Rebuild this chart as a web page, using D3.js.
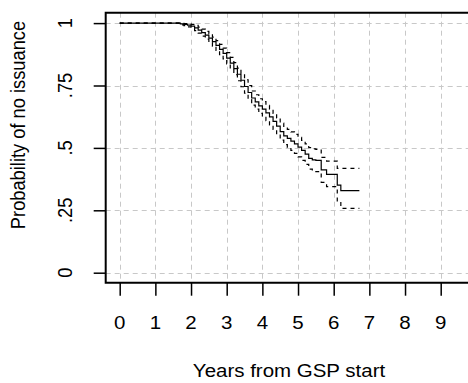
<!DOCTYPE html>
<html><head><meta charset="utf-8">
<script src="https://cdn.jsdelivr.net/npm/d3@7"></script>
<style>body{margin:0;background:#fff}svg{display:block}text{font-family:"Liberation Sans",Arial,sans-serif;fill:#000}</style>
</head><body>
<script>
// Kaplan-Meier estimate (step times) with 95% CI
const times = [0, 1.7, 1.8, 1.9, 2.0, 2.1, 2.2, 2.3, 2.4, 2.5, 2.6, 2.7, 2.8, 2.9, 3.0, 3.1, 3.2, 3.3, 3.4, 3.5, 3.6, 3.7, 3.8, 3.9, 4.0, 4.1, 4.2, 4.3, 4.4, 4.5, 4.6, 4.7, 4.8, 4.9, 5.0, 5.1, 5.2, 5.3, 5.4, 5.5, 5.65, 5.8, 6.1, 6.2];
const survival = [1, .997, .995, .992, .988, .981, .972, .962, .952, .940, .926, .911, .895, .879, .860, .840, .818, .795, .771, .746, .722, .700, .684, .668, .655, .640, .624, .606, .587, .565, .548, .538, .527, .516, .503, .490, .475, .458, .452, .450, .412, .394, .351, .329];
const upper = [1, .999, .998, .997, .995, .991, .984, .976, .967, .957, .944, .930, .915, .900, .882, .863, .842, .820, .797, .773, .750, .728, .713, .697, .685, .670, .655, .638, .620, .599, .583, .574, .564, .554, .542, .530, .516, .501, .496, .494, .462, .447, .418, .418];
const lower = [1, .993, .990, .985, .979, .970, .960, .948, .936, .922, .907, .891, .874, .857, .837, .816, .793, .769, .745, .719, .694, .671, .655, .638, .625, .609, .592, .574, .554, .531, .513, .502, .490, .478, .464, .450, .434, .415, .408, .405, .362, .345, .285, .258];
const lastTime = 6.72;
const xTicks = [0, 1, 2, 3, 4, 5, 6, 7, 8, 9];
const yTicks = [0, 0.25, 0.5, 0.75, 1];
const yTickLabels = ["0", ".25", ".5", ".75", "1"];
const xTitle = "Years from GSP start";
const yTitle = "Probability of no issuance";

const W = 468, H = 383;
const pL = 105.7, pT = 12.7, pB = 282.7, pR = 490;
const x = d3.scaleLinear().domain([0, 9]).range([119.7, 440.7]);
const y = d3.scaleLinear().domain([0, 1]).range([272.7, 23.1]);
const SX = 1.12; // horizontal stretch of glyphs seen in the reference
const FS = 18.3;

const svg = d3.select("body").append("svg").attr("width", W).attr("height", H);

// grid
const g = svg.append("g").attr("stroke", "#c8c8c8").attr("stroke-width", 1).attr("stroke-dasharray", "5,4");
g.selectAll(".vx").data(xTicks).join("line")
  .attr("x1", d => Math.round(x(d)) + 0.5).attr("x2", d => Math.round(x(d)) + 0.5)
  .attr("y1", pT).attr("y2", pB);
g.selectAll(".hy").data(yTicks).join("line")
  .attr("y1", d => Math.round(y(d)) + 0.5).attr("y2", d => Math.round(y(d)) + 0.5)
  .attr("x1", pL).attr("x2", pR);

// step curves
const pts = (vals) => { const p = vals.map((v, i) => [times[i], v]); p.push([lastTime, vals[vals.length - 1]]); return p; };
const step = d3.line().x(d => x(d[0])).y(d => y(d[1])).curve(d3.curveStepAfter);
svg.append("path").attr("d", step(pts(upper))).attr("fill", "none").attr("stroke", "#000").attr("stroke-width", 1.2).attr("stroke-dasharray", "4,4");
svg.append("path").attr("d", step(pts(lower))).attr("fill", "none").attr("stroke", "#000").attr("stroke-width", 1.2).attr("stroke-dasharray", "4,4");
svg.append("path").attr("d", step(pts(survival))).attr("fill", "none").attr("stroke", "#000").attr("stroke-width", 1.2);

// box
svg.append("path").attr("d", `M${pR},${pT}H${pL}V${pB}H${pR}`).attr("fill", "none").attr("stroke", "#000").attr("stroke-width", 2);

// axes
const xAxis = d3.axisBottom(x).tickValues(xTicks).tickSize(13).tickFormat(d3.format("d"));
const xa = svg.append("g").attr("transform", `translate(0,${pB})`).call(xAxis);
xa.select(".domain").remove();
xa.selectAll("line").attr("stroke-width", 1.5);
xa.selectAll("text").remove();
svg.append("g").selectAll("text").data(xTicks).join("text")
  .attr("transform", d => `translate(${x(d)},329) scale(${SX},1)`)
  .attr("text-anchor", "middle").attr("font-size", FS).text(d => d);

const yAxis = d3.axisLeft(y).tickValues(yTicks).tickSize(12);
const ya = svg.append("g").attr("transform", `translate(${pL},0)`).call(yAxis);
ya.select(".domain").remove();
ya.selectAll("line").attr("stroke-width", 1.5);
ya.selectAll("text").remove();
svg.append("g").selectAll("text").data(yTicks).join("text")
  .attr("transform", d => `translate(72,${y(d)}) scale(${SX},1) rotate(-90)`)
  .attr("text-anchor", "middle").attr("font-size", FS).text((d, i) => yTickLabels[i]);

svg.append("text").attr("transform", `translate(289,377) scale(${SX},1)`).attr("text-anchor", "middle").attr("font-size", FS).text(xTitle);
svg.append("text").attr("transform", `translate(25,125) scale(${SX},1) rotate(-90)`).attr("text-anchor", "middle").attr("font-size", FS).text(yTitle);
</script>
</body></html>
